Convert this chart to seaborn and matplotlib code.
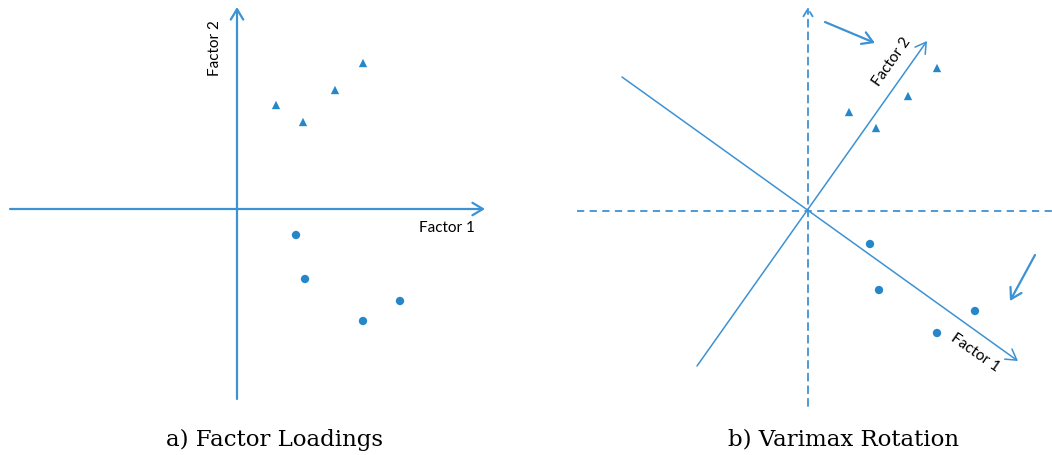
import numpy as np
import pandas as pd
import seaborn as sns
import matplotlib.pyplot as plt

sns.set_style("white")
plt.rcParams['text.color'] = 'black'

# loadings read off panel a) (origin at axis crossing)
tri_a_x = [0.39, 0.66, 0.98, 1.26]
tri_a_y = [1.04, 0.87, 1.19, 1.46]
dot_a_x = [0.59, 0.68, 1.26, 1.63]
dot_a_y = [-0.26, -0.70, -1.12, -0.92]

# loadings in panel b)
tri_b_x = [0.41, 0.68, 1.00, 1.29]
tri_b_y = [0.99, 0.83, 1.15, 1.43]
dot_b_x = [0.62, 0.71, 1.67, 1.29]
dot_b_y = [-0.33, -0.79, -1.00, -1.22]

# axis extents
a_hx = [-2.27, 2.48]
a_vy = [-1.90, 2.02]
b_hx = [-2.31, 2.44]
b_vy = [-1.95, 2.04]
# rotated axes (start, end) in panel b)
f1_start, f1_end = (-1.86, 1.34), (2.10, -1.50)
f2_start, f2_end = (-1.11, -1.55), (1.19, 1.70)
# rotation hint arrows
hint1 = ((0.17, 1.89), (0.67, 1.68))
hint2 = ((2.27, -0.44), (2.02, -0.90))

line_c = "#3d92d4"
pt_c = "#2587c9"
lab_font = ["Lato", "DejaVu Sans"]

fig = plt.figure(figsize=(10.52, 4.56), dpi=100)
axa = fig.add_axes([0, 0, 0.5, 1])
axb = fig.add_axes([0.5, 0, 0.5, 1])
for ax in (axa, axb):
    ax.set_axis_off()

def arrow(ax, p0, p1, lw, ls="-", head=15):
    ax.annotate("", xy=p1, xytext=p0,
                arrowprops=dict(arrowstyle="->,head_length=0.5,head_width=0.3", color=line_c,
                                lw=lw, linestyle=ls, mutation_scale=head, shrinkA=0, shrinkB=0))

# panel a
arrow(axa, (a_hx[0], 0), (a_hx[1], 0), 1.6)
arrow(axa, (0, a_vy[0]), (0, a_vy[1]), 1.6)
dfa = pd.DataFrame({"x": tri_a_x + dot_a_x, "y": tri_a_y + dot_a_y,
                    "kind": ["tri"] * 4 + ["dot"] * 4})
sns.scatterplot(data=dfa, x="x", y="y", style="kind", markers={"tri": "^", "dot": "o"},
                color=pt_c, s=36, edgecolor="none", legend=False, ax=axa)
axa.text(2.10, -0.18, "Factor 1", fontsize=11, family=lab_font, ha="center", va="center")
axa.text(-0.22, 1.62, "Factor 2", fontsize=11, family=lab_font, ha="center", va="center",
         rotation=90)
axa.set_xlim(-2.37, 2.89)
axa.set_ylim(-2.46, 2.10)

# panel b
axb.plot(b_hx, [0, 0], color=line_c, lw=1.3, ls=(0, (4, 3)))
arrow(axb, (0, b_vy[0]), (0, b_vy[1]), 1.3, ls=(0, (4, 3)), head=11)
arrow(axb, f1_start, f1_end, 1.1)
arrow(axb, f2_start, f2_end, 1.1)
arrow(axb, hint1[0], hint1[1], 1.6)
arrow(axb, hint2[0], hint2[1], 1.6)
dfb = pd.DataFrame({"x": tri_b_x + dot_b_x, "y": tri_b_y + dot_b_y,
                    "kind": ["tri"] * 4 + ["dot"] * 4})
sns.scatterplot(data=dfb, x="x", y="y", style="kind", markers={"tri": "^", "dot": "o"},
                color=pt_c, s=36, edgecolor="none", legend=False, ax=axb)
axb.text(0.84, 1.50, "Factor 2", fontsize=11, family=lab_font, ha="center", va="center",
         rotation=55)
axb.text(1.67, -1.41, "Factor 1", fontsize=11, family=lab_font, ha="center", va="center",
         rotation=-35)
axb.set_xlim(-2.82, 2.44)
axb.set_ylim(-2.44, 2.12)

fig.text(275 / 1052, 1 - 440 / 456, "a) Factor Loadings", family="DejaVu Serif",
         fontsize=16.5, ha="center", va="center")
fig.text(843 / 1052, 1 - 440 / 456, "b) Varimax Rotation", family="DejaVu Serif",
         fontsize=16.5, ha="center", va="center")

fig.savefig("out.png", dpi=100)
